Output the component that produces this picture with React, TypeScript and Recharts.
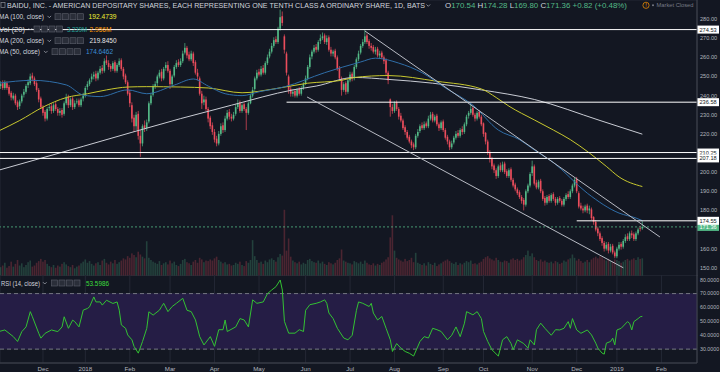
import React from 'react';
import {
  ComposedChart, Bar, Line, XAxis, YAxis, CartesianGrid, ReferenceLine, ReferenceArea,
} from 'recharts';

// trading-day index of each month start, Nov 2017 .. Feb 2019
const monthIdx = [21, 41, 62, 81, 102, 123, 145, 166, 187, 210, 229, 252, 273, 292, 313];
const monthLabels = ['Dec', '2018', 'Feb', 'Mar', 'Apr', 'May', 'Jun', 'Jul', 'Aug', 'Sep', 'Oct', 'Nov', 'Dec', '2019', 'Feb'];
const gridTicks = [150, 160, 170, 180, 190, 200, 210, 220, 230, 240, 250, 260, 270, 280];
// 170 and 210 sit under the level tags, so they get no label
const priceTicks = [150, 160, 180, 190, 200, 220, 230, 240, 250, 260, 270, 280];
const rsiTicks = [30, 40, 50, 60, 70];

const opens = [
  244, 245, 246.5, 244, 246.5, 244.5, 241.5, 238.5, 240, 236.5,
  234.5, 237, 240.5, 242, 245.5, 246.5, 250.5, 249, 246.5, 243,
  238.5, 234, 231.5, 228, 233.5, 234.5, 232, 235.5, 233, 231,
  232.5, 230.5, 236, 239.5, 235, 238.5, 234, 236.5, 237.5, 235,
  238.5, 240, 244.5, 246, 248.5, 250, 251.5, 249, 252, 254.5,
  253, 258.5, 257, 255.5, 254, 257.5, 253, 256, 258.5, 254,
  250.5, 247, 241.5, 235, 228.5, 224, 230.5, 219, 215, 224.5,
  223, 226.5, 236, 240.5, 245, 246.5, 250, 252.5, 249, 254.5,
  256, 253, 246, 250.5, 255, 257.5, 256, 258, 262.5, 265,
  261.5, 259, 262, 257.5, 252, 249, 241, 236.5, 238, 233,
  228.5, 224.5, 221, 217.5, 215, 220, 224.5, 222, 228, 231.5,
  229, 228, 230.5, 234, 236.5, 232, 235.5, 233, 231, 236,
  240, 243.5, 249, 252.5, 251, 254.5, 252, 257, 260.5, 263,
  266, 269.5, 268, 275, 281.5, 271, 262, 250, 243.5, 241,
  242.5, 240, 243.5, 241, 244, 246.5, 249, 255, 260.5, 263,
  265.5, 264, 268.5, 270, 271.5, 268, 270.5, 264, 262, 263.5,
  260, 254.5, 249, 243, 246.5, 242, 248, 251.5, 249, 255,
  259, 262.5, 266, 268, 271.5, 268.5, 266, 265.5, 263, 264.5,
  261, 262.5, 260, 258.5, 252, 238, 234, 232, 236.5, 233,
  229.5, 227, 223.5, 221, 218.5, 216, 214.5, 213, 219, 221.5,
  224.5, 223, 225.5, 224, 228, 230.5, 227, 229.5, 225, 223,
  226.5, 222, 218.5, 216, 213, 215.5, 218, 220.5, 219, 222.5,
  221, 225, 229.5, 231, 233.5, 230, 228, 231.5, 229, 225.5,
  220.5, 216, 210.5, 207, 203.5, 201, 198, 203.5, 201, 204.5,
  200.5, 198, 201.5, 196, 193.5, 191, 189.5, 187, 185.5, 183,
  190, 193, 199.5, 203, 194.5, 192, 195.5, 190, 186.5, 184,
  187.5, 185, 188.5, 186, 184, 186.5, 185, 183, 186, 188.5,
  187, 190, 193, 196.5, 189, 182.5, 181, 180, 182.5, 180,
  180.5, 176.5, 174, 170.5, 168, 165.5, 163, 160, 162.5, 159,
  161.5, 158, 156, 160, 162.5, 161, 164, 166.5, 165, 168,
  167.5, 165, 168, 170.8, 170.54,
];

const highs = [
  246.5, 247.5, 248, 248, 247.5, 245.5, 242.5, 241.5, 241, 237.5,
  238, 241, 243.5, 246, 248.5, 251.5, 252, 250, 247.5, 244,
  239.5, 235, 232.5, 234, 235.5, 236, 236, 237, 234, 233.5,
  233.5, 237, 241, 240.5, 239, 239.5, 237.5, 238.5, 238.5, 239,
  241.5, 245, 247.5, 249, 251.5, 252.5, 253, 253, 255.5, 256,
  259.5, 261, 258.5, 256.5, 258, 258.5, 257, 259.5, 259.5, 255,
  251.5, 248, 243, 236.5, 230, 231.5, 232, 222, 225, 227,
  227.5, 237, 241.5, 246, 247.5, 251, 253.5, 254, 255, 257.5,
  258, 254, 251, 256, 258.5, 259, 259.5, 263.5, 267.5, 266,
  263, 263.5, 263, 258.5, 254, 250, 242.5, 240, 239.5, 234,
  229.5, 226, 222.5, 219, 221.5, 225.5, 226, 229.5, 232.5, 233,
  230.5, 231.5, 235.5, 238, 237.5, 236, 236.5, 234, 237, 241,
  244.5, 250, 253.5, 254, 255.5, 256, 258, 261.5, 264.5, 267.5,
  270.5, 271, 276, 285, 284, 272, 263, 251, 245, 243.5,
  243.5, 244, 244.5, 245, 247, 250.5, 256, 261.5, 264, 266.5,
  267, 269, 272, 273, 272.5, 271.5, 271.5, 265.5, 264, 264.5,
  261, 255.5, 250, 247, 247.5, 249, 252.5, 252.5, 256, 260,
  263.5, 267, 269.5, 274.5, 272.5, 269.5, 267.5, 266.5, 265.5, 265.5,
  263.5, 263.5, 261, 259.5, 253, 238.5, 235.5, 237, 237.5, 234,
  231, 228, 224.5, 222, 219.5, 217, 215.5, 220, 222.5, 225,
  226, 226.5, 226.5, 229.5, 231.5, 231.5, 230, 230.5, 226, 227,
  227.5, 223, 219.5, 217, 216.5, 219, 221.5, 222, 223, 224,
  226, 230, 232, 235.5, 234.5, 231, 232, 232.5, 230, 226,
  221, 217, 211.5, 208, 204.5, 202, 204, 205, 205.5, 205.5,
  201.5, 202, 202.5, 197, 194.5, 192, 190.5, 188, 186.5, 191,
  194, 200, 206, 204, 196, 196, 196.5, 191, 187.5, 188,
  188.5, 189, 189.5, 187, 187, 187.5, 186, 187, 189, 190,
  191, 194, 197, 197.5, 190, 184, 182.5, 183, 183.5, 182.5,
  181.5, 177, 175, 171.5, 169, 166.5, 164, 163.5, 163.5, 162.5,
  162.5, 159, 161, 163.5, 163.5, 165, 167.5, 168, 169, 169.5,
  168.5, 169, 171, 172, 174.28,
];

const lows = [
  242.5, 243.5, 243, 243, 243, 240, 237.5, 237.5, 235, 232.5,
  233, 236, 239, 241, 244, 245.5, 247.5, 245, 242, 236.5,
  233, 229.5, 226.5, 227, 232, 230.5, 231, 232, 229.5, 229.5,
  228.5, 229.5, 235, 233.5, 234, 232.5, 233, 235.5, 234, 234,
  237, 239, 243, 245, 247, 248.5, 247.5, 248, 251, 251.5,
  252, 256, 253.5, 252.5, 253, 252, 252, 255, 253, 248.5,
  246, 240, 234, 226, 221, 222, 217, 208, 213.5, 221,
  221.5, 225.5, 235, 239.5, 243.5, 245, 249, 247.5, 248, 253,
  252, 243.5, 244.5, 249.5, 254, 255, 255, 257, 261.5, 259.5,
  258, 258, 255.5, 251, 248, 240, 233, 235, 232, 226,
  222.5, 219.5, 215.5, 213.5, 214, 219, 220.5, 221, 227, 227.5,
  226.5, 227, 229.5, 233, 231, 231, 232, 222, 230, 235.5,
  239, 242.5, 248, 250, 250, 251, 251, 256, 259.5, 262,
  265, 267, 267, 274, 276.5, 262, 250.5, 241, 239.5, 239.5,
  239, 239, 240, 240, 243, 245.5, 248, 254, 259, 262,
  262.5, 263, 267, 269, 267, 266.5, 263, 260.5, 260.5, 259,
  253, 248, 240, 242, 240.5, 241, 247, 247.5, 248, 254,
  258, 261.5, 265, 267, 267, 264.5, 263.5, 262, 261.5, 260,
  259.5, 259, 256.5, 250.5, 246, 229, 230.5, 231, 232, 227.5,
  226, 222, 219.5, 217, 215, 212.5, 211.5, 212, 218, 220.5,
  222, 222, 223, 223, 227, 226, 226, 224, 221.5, 222,
  221, 217, 214.5, 211.5, 212, 214.5, 217, 218, 218, 219.5,
  220, 224, 228, 230, 229, 226.5, 227, 228, 224, 218.5,
  214.5, 209, 205, 201.5, 199.5, 196.5, 197, 200, 200, 199,
  197, 197, 195, 192, 190, 188, 186, 183.5, 180, 182,
  189, 192, 198, 193, 191, 191, 189, 185, 182.5, 183,
  184, 184, 185, 182.5, 183, 184, 182, 182, 185, 186,
  186, 189, 192, 189, 181, 180, 178.5, 179, 178.5, 178,
  175, 172.5, 169, 166.5, 164, 161.5, 158.5, 159, 157.5, 158,
  157, 155, 155, 159, 159.5, 160, 163, 164, 164, 165.5,
  164, 164, 167, 169, 169.8,
];

const closes = [
  245, 246, 244, 247, 244, 241, 239, 240, 236, 234,
  237, 240, 242, 245, 247, 250, 249, 246, 243, 238,
  234, 231, 228, 233, 234, 232, 235, 233, 231, 232,
  230, 236, 239, 235, 238, 234, 236, 237, 235, 238,
  240, 244, 246, 248, 250, 251, 249, 252, 254, 253,
  258, 257, 255, 254, 257, 253, 256, 258, 254, 250,
  247, 241, 236, 228, 224, 230, 219, 215, 224, 223,
  226, 236, 240, 245, 246, 250, 252, 249, 254, 256,
  253, 246, 250, 255, 257, 256, 258, 262, 265, 261,
  259, 262, 257, 252, 250, 241, 236, 238, 233, 228,
  224, 221, 217, 215, 220, 224, 222, 228, 231, 229,
  228, 230, 234, 236, 232, 235, 233, 231, 236, 240,
  243, 249, 252, 251, 254, 252, 257, 260, 263, 266,
  269, 268, 275, 281, 278, 264, 252, 243, 241, 242,
  240, 243, 241, 244, 246, 249, 255, 260, 263, 265,
  264, 268, 270, 271, 268, 270, 264, 262, 263, 260,
  254, 249, 243, 246, 242, 248, 251, 249, 255, 259,
  262, 266, 268, 271, 268, 266, 265, 263, 264, 261,
  262, 260, 258, 252, 248, 234, 232, 236, 233, 229,
  227, 223, 221, 218, 216, 214, 213, 219, 221, 224,
  223, 225, 224, 228, 230, 227, 229, 225, 223, 226,
  222, 218, 216, 213, 215, 218, 220, 219, 222, 221,
  225, 229, 231, 233, 230, 228, 231, 229, 225, 220,
  216, 210, 207, 203, 201, 198, 203, 201, 204, 200,
  198, 201, 196, 193, 191, 189, 187, 185, 183, 190,
  193, 199, 203, 194, 192, 195, 190, 186, 184, 187,
  185, 188, 186, 184, 186, 185, 183, 186, 188, 187,
  190, 193, 196, 190, 182, 181, 180, 182, 180, 181,
  176, 174, 170, 168, 165, 163, 160, 162, 159, 161,
  158, 156, 160, 162, 161, 164, 166, 165, 168, 167,
  165, 168, 170, 170.5, 171.36,
];

// volume, millions
const volumes = [
  2.1, 1.6, 1.9, 2.4, 1.5, 1.8, 2.6, 1.7, 2.2, 2.9,
  1.9, 2.3, 1.6, 2.0, 2.5, 2.8, 1.7, 1.9, 2.4, 2.7,
  3.1, 2.6, 2.9, 2.2, 1.8, 1.6, 2.0, 1.5, 1.9, 1.7,
  2.2, 2.5, 2.1, 1.8, 1.6, 2.0, 1.4, 1.7, 1.9, 2.3,
  2.6, 3.0, 2.4, 2.7, 2.2, 1.9, 2.3, 2.5, 2.0, 2.8,
  3.1, 2.4, 2.1, 2.6, 2.3, 2.9, 2.2, 2.5, 2.8, 3.2,
  3.0, 3.6, 3.3, 4.1, 3.8, 3.4, 4.4, 3.9, 3.5, 3.2,
  6.3, 3.3, 2.9, 2.6, 2.4, 2.2, 2.7, 2.0, 2.3, 2.5,
  2.1, 2.8, 2.3, 2.6, 2.0, 1.8, 2.2, 2.9, 3.1, 2.5,
  2.3, 2.0, 2.6, 2.9, 2.4, 3.3, 3.0, 2.5, 2.8, 2.7,
  3.0, 2.8, 3.2, 3.5, 2.9, 2.6, 2.3, 2.5, 2.1, 2.2,
  1.9, 2.0, 2.4, 2.2, 2.6, 2.0, 1.8, 2.7, 2.4, 2.9,
  6.5, 3.6, 2.9, 2.4, 2.6, 2.2, 2.8, 2.5, 3.0, 3.2,
  2.9, 2.6, 3.4, 4.0, 3.7, 12.0, 4.6, 6.8, 3.5, 2.8,
  2.5, 2.3, 2.6, 2.1, 2.4, 2.2, 2.9, 3.1, 2.7, 2.5,
  2.4, 2.8, 2.3, 2.6, 2.2, 2.0, 2.5, 2.3, 2.1, 2.4,
  2.9, 3.2, 4.8, 2.8, 2.6, 2.4, 2.3, 2.1, 2.7, 2.5,
  2.3, 2.6, 2.2, 2.8, 2.4, 2.1, 2.0, 2.3, 1.9, 2.2,
  2.0, 2.4, 2.6, 3.0, 3.4, 7.0, 11.0, 4.6, 3.3, 3.0,
  2.8, 2.6, 3.1, 2.7, 2.9, 3.3, 2.5, 4.2, 2.4, 2.2,
  2.0, 2.3, 1.9, 2.5, 2.2, 2.0, 2.4, 1.8, 2.1, 2.3,
  2.6, 2.8, 3.0, 2.7, 2.4, 2.2, 2.5, 2.0, 2.3, 2.1,
  2.4, 2.7, 2.5, 2.8, 2.2, 2.3, 2.1, 2.4, 2.6, 3.1,
  3.4, 3.6, 3.2, 3.0, 2.8, 3.3, 2.9, 2.6, 2.5, 2.8,
  2.7, 2.4, 3.0, 3.2, 2.9, 3.1, 2.8, 3.0, 3.4, 3.8,
  4.6, 3.6, 4.1, 3.4, 2.9, 2.7, 3.0, 2.6, 2.8, 2.5,
  2.4, 2.6, 2.3, 2.7, 2.5, 2.2, 2.4, 2.8, 2.6, 3.0,
  3.2, 3.9, 3.3, 2.8, 3.1, 2.7, 2.4, 2.6, 2.9, 2.5,
  3.0, 3.3, 3.5, 3.2, 3.6, 3.4, 3.0, 2.8, 3.1, 2.7,
  2.6, 3.0, 2.9, 2.7, 2.4, 2.6, 2.9, 3.1, 2.8, 3.0,
  3.2, 2.9, 3.4, 3.1, 3.2,
];

// moving averages: [day index, value]
const ma50Pts = [
  [0, 246.5], [16, 248], [32, 245.6], [40, 240.3], [48, 239.5], [61, 243], [70, 241], [83, 245.5],
  [92, 248.7], [99, 245], [107, 241], [115, 240], [123, 242], [135, 244.6], [154, 252], [171, 257.6],
  [178, 259.6], [189, 257], [200, 252], [211, 244], [224, 235], [236, 222], [246, 217], [253, 211.6],
  [262, 205], [278, 189], [293, 178.6], [301, 176], [304, 174.65],
];
const ma100Pts = [
  [0, 221.5], [10, 227], [21, 234], [32, 239], [42, 241], [51, 243], [61, 244.5], [70, 244.7],
  [86, 244.5], [99, 244], [115, 241.5], [130, 243.5], [146, 246.5], [162, 248], [168, 249.5],
  [184, 250.5], [207, 247.5], [228, 243.5], [235, 239], [241, 234.5], [253, 227.3], [262, 222],
  [270, 217], [279, 210], [287, 203], [293, 197.5], [304, 192.47],
];
const ma200Pts = [
  [0, 201], [40, 213.5], [86, 228], [110, 235], [139, 243], [150, 245], [168, 249.5], [184, 248.5],
  [205, 246.5], [228, 243], [253, 238], [284, 227], [304, 219.85],
];

const rsiPts = [
  [0, 42.6], [3, 43.8], [7, 39], [9, 35.5], [11, 42.6], [13, 46], [15, 57], [16, 53.3], [19, 41.4],
  [20, 37.9], [22, 41.4], [25, 43.8], [28, 42.6], [30, 46], [31, 53.3], [33, 45], [35, 50.9],
  [36, 49.8], [38, 46], [40, 58.1], [42, 59.3], [43, 60.5], [45, 67.6], [46, 64], [48, 64],
  [49, 61.7], [51, 65.2], [54, 62.9], [56, 64], [57, 58.1], [58, 47.4], [60, 45], [61, 40.2],
  [63, 36.7], [64, 31.9], [66, 27.1], [68, 35.5], [70, 45], [71, 56.9], [73, 54.5], [76, 58.1],
  [77, 60.7], [78, 63], [80, 57], [82, 60.7], [84, 63], [87, 66.6], [89, 58], [91, 57], [93, 51],
  [95, 39], [97, 33], [100, 39], [102, 32], [104, 44], [106, 44], [107, 51], [108, 42.7], [112, 46],
  [114, 52], [116, 51], [118, 46], [120, 65.5], [122, 63], [125, 64], [127, 70], [129, 72.6],
  [131, 75], [133, 79.8], [134, 72.6], [135, 50], [137, 41.5], [140, 41.5], [142, 44], [144, 42.7],
  [145, 58], [147, 62], [150, 63], [152, 64], [154, 65.5], [155, 63], [156, 56], [158, 52], [160, 45],
  [163, 38], [165, 36.7], [167, 40], [169, 58], [170, 64], [172, 63], [175, 60.7], [176, 63],
  [177, 56], [179, 51], [181, 53.5], [183, 45], [185, 36.7], [186, 28.3], [188, 34], [190, 30.7],
  [192, 28.3], [194, 27], [196, 25], [199, 35.5], [201, 39], [203, 38], [205, 45], [207, 44],
  [209, 42.7], [212, 36.7], [214, 40], [216, 46], [218, 39], [220, 48.7], [221, 57], [224, 54.7],
  [226, 57], [228, 52], [229, 42.7], [231, 35.5], [233, 29.5], [236, 25], [237, 30.7], [238, 36.7],
  [240, 39], [242, 34], [243, 29.5], [245, 36.7], [248, 34], [250, 30.7], [251, 36.7], [253, 33],
  [254, 44], [256, 48.7], [258, 45], [261, 40], [263, 44], [265, 43.8], [267, 45], [269, 49.8],
  [270, 45], [271, 52], [273, 43.8], [275, 41.4], [278, 43.8], [280, 40.2], [282, 34.3], [283, 30.7],
  [285, 27.1], [286, 26.4], [287, 34.3], [289, 35.5], [290, 37.9], [291, 33.1], [292, 43.8],
  [294, 45], [297, 49.8], [298, 48.5], [299, 43.8], [300, 49.8], [302, 52], [303, 53.3], [304, 53.6],
];

const BG = '#131722';
const GRID = '#242835';
const AXIS = '#434651';
const TXT = '#b2b5be';
const UP = '#53b987';
const DOWN = '#eb4d5c';
const X0 = 0.7;
const X1 = 329.8;

const rows = closes.map((c, i) => ({
  i, range: [lows[i], highs[i]], open: opens[i], close: c, vol: volumes[i],
}));
const toPts = (a: number[][]) => a.map(([i, v]) => ({ i, v }));

const Candle = (props: any) => {
  const { x, y, width, height, payload } = props;
  if (!payload || height == null) return null;
  const [lo, hi] = payload.range;
  const k = height / (hi - lo || 1);
  const cx = x + width / 2;
  const yo = y + (hi - payload.open) * k;
  const yc = y + (hi - payload.close) * k;
  const col = payload.close >= payload.open ? UP : DOWN;
  return (
    <g>
      <line x1={cx} x2={cx} y1={y} y2={y + height} stroke={col} strokeWidth={0.7} />
      <rect x={cx - 0.8} y={Math.min(yo, yc)} width={1.6} height={Math.max(Math.abs(yc - yo), 0.7)} fill={col} />
    </g>
  );
};

const VolBar = (props: any) => {
  const { x, y, width, height, payload } = props;
  if (!payload || !height) return null;
  const up = payload.close >= payload.open;
  return <rect x={x + width / 2 - 0.8} y={y} width={1.6} height={height} fill={up ? 'rgba(83,185,135,0.26)' : 'rgba(235,77,92,0.26)'} />;
};

const Tag = (props: any) => {
  const vb = props.viewBox || {};
  const x = (vb.x || 0) + (vb.width || 0);
  const y = vb.y || 0;
  return (
    <g>
      <rect x={x} y={y - 4} width={22} height={8} fill={props.bg} />
      <text x={x + 2.5} y={y + 2} fontSize={5.6} fill={props.fg}>{props.txt}</text>
    </g>
  );
};

const Icons = ({ x, cy }: { x: number; cy: number }) => (
  <g>
    {[0, 1, 2, 3].map((k) => (
      <rect key={k} x={x + k * 7.5} y={cy - 3} width={6} height={6} fill="#2a2e39" stroke="#5d606b" strokeWidth={0.6} />
    ))}
  </g>
);
const Chev = ({ x, cy }: { x: number; cy: number }) => (
  <path d={`M${x} ${cy - 0.8} l1.8 1.8 l1.8 -1.8`} stroke={TXT} strokeWidth={0.7} fill="none" />
);

const xAxisCommon = {
  dataKey: 'i', type: 'number' as const, domain: [X0, X1], allowDataOverflow: true, ticks: monthIdx,
};

export default function App() {
  const lv = '#ffffff';
  return (
    <div style={{ position: 'absolute', left: 0, top: 0, width: 720, height: 372, background: BG, overflow: 'hidden', fontFamily: '"Liberation Sans", Arial, sans-serif' }}>
      {/* volume + grid layer */}
      <div style={{ position: 'absolute', left: 0, top: 0 }}>
        <ComposedChart width={720} height={276} data={rows} margin={{ top: 0, right: 0, bottom: 0, left: 0 }}>
          <XAxis {...xAxisCommon} height={0} tick={false} axisLine={false} tickLine={false} />
          <YAxis orientation="right" width={23} domain={[145.7, 290]} allowDataOverflow ticks={gridTicks} interval={0} tick={false} axisLine={false} tickLine={false} />
          <YAxis yAxisId="v" hide domain={[0, 50]} />
          <CartesianGrid stroke={GRID} />
          <Bar yAxisId="v" dataKey="vol" barSize={2} shape={<VolBar />} isAnimationActive={false} />
        </ComposedChart>
      </div>

      {/* price layer */}
      <div style={{ position: 'absolute', left: 0, top: 0 }}>
        <ComposedChart width={720} height={276} data={rows} margin={{ top: 0, right: 0, bottom: 0, left: 0 }}>
          <XAxis {...xAxisCommon} height={0} tick={false} axisLine={{ stroke: AXIS }} tickLine={false} />
          <YAxis orientation="right" width={23} domain={[145.7, 290]} allowDataOverflow ticks={priceTicks} interval={0}
            tickFormatter={(v: number) => v.toFixed(2)} tick={{ fontSize: 5.6, fill: TXT }} tickLine={false}
            tickSize={0} tickMargin={3} axisLine={{ stroke: AXIS }} />
          <Line data={toPts(ma200Pts)} dataKey="v" type="monotone" stroke="#c9ccd4" strokeWidth={1} dot={false} activeDot={false} isAnimationActive={false} />
          <Line data={toPts(ma100Pts)} dataKey="v" type="monotone" stroke="#c8c82e" strokeWidth={1} dot={false} activeDot={false} isAnimationActive={false} />
          <Line data={toPts(ma50Pts)} dataKey="v" type="monotone" stroke="#2f6ea8" strokeWidth={1} dot={false} activeDot={false} isAnimationActive={false} />
          <Bar dataKey="range" barSize={2} shape={<Candle />} isAnimationActive={false} />
          <ReferenceLine y={171.36} stroke={UP} strokeDasharray="2 2" strokeWidth={0.8} label={<Tag txt="171.36" bg={UP} fg="#ffffff" />} />
          <ReferenceLine y={274.53} stroke={lv} strokeWidth={1} label={<Tag txt="274.53" bg="#ffffff" fg={BG} />} />
          <ReferenceLine y={210.25} stroke={lv} strokeWidth={1} label={<Tag txt="210.25" bg="#ffffff" fg={BG} />} />
          <ReferenceLine y={207.18} stroke={lv} strokeWidth={1} label={<Tag txt="207.18" bg="#ffffff" fg={BG} />} />
          <ReferenceLine segment={[{ x: 136, y: 236.58 }, { x: X1, y: 236.58 }]} stroke={lv} strokeWidth={1} label={<Tag txt="236.58" bg="#ffffff" fg={BG} />} />
          <ReferenceLine segment={[{ x: 273, y: 174.55 }, { x: X1, y: 174.55 }]} stroke={lv} strokeWidth={1} label={<Tag txt="174.55" bg="#ffffff" fg={BG} />} />
          <ReferenceLine segment={[{ x: 173, y: 273.8 }, { x: 312.3, y: 166.1 }]} stroke="#b8bbc4" strokeWidth={1} />
          <ReferenceLine segment={[{ x: 145.7, y: 239.3 }, { x: 295, y: 150 }]} stroke="#b8bbc4" strokeWidth={1} />
        </ComposedChart>
      </div>

      {/* RSI pane */}
      <div style={{ position: 'absolute', left: 0, top: 275 }}>
        <ComposedChart width={720} height={97} data={toPts(rsiPts)} margin={{ top: 0, right: 0, bottom: 0, left: 0 }}>
          <XAxis {...xAxisCommon} interval={0} height={9} tickFormatter={(v: number) => monthLabels[monthIdx.indexOf(v)] || ''}
            tick={{ fontSize: 6.2, fill: TXT }} tickLine={false} tickSize={0} tickMargin={3.5} axisLine={{ stroke: AXIS }} />
          <YAxis orientation="right" width={23} domain={[20, 83.4]} allowDataOverflow ticks={rsiTicks} interval={0}
            tickFormatter={(v: number) => v.toFixed(4)} tick={{ fontSize: 5.3, fill: TXT }} tickLine={false}
            tickSize={0} tickMargin={3} axisLine={{ stroke: AXIS }} />
          <ReferenceArea y1={30} y2={70} fill="#251d45" fillOpacity={1} stroke="none" />
          <CartesianGrid stroke={GRID} />
          <ReferenceLine y={70} stroke="#8a8d96" strokeDasharray="4 3" strokeWidth={0.8} />
          <ReferenceLine y={30} stroke="#8a8d96" strokeDasharray="4 3" strokeWidth={0.8} />
          <Line dataKey="v" type="linear" stroke="#33c233" strokeWidth={1} dot={false} activeDot={false} isAnimationActive={false} />
        </ComposedChart>
      </div>

      {/* legend texts */}
      <svg width={720} height={372} style={{ position: 'absolute', left: 0, top: 0, pointerEvents: 'none' }}>
        <g fill="#d1d4dc" fontSize={6.8}>
          <rect x={1} y={2.5} width={4} height={5} fill="none" stroke="#8a8d96" strokeWidth={0.7} />
          <text x={7} y={7.8} textLength={418} lengthAdjust="spacingAndGlyphs">BAIDU, INC. - AMERICAN DEPOSITARY SHARES, EACH REPRESENTING ONE TENTH CLASS A ORDINARY SHARE, 1D, BATS</text>
          <Chev x={426.5} cy={5.3} />
          <text x={445} y={7.8} textLength={182} lengthAdjust="spacingAndGlyphs">
            O<tspan fill={UP}>170.54</tspan> H<tspan fill={UP}>174.28</tspan> L<tspan fill={UP}>169.80</tspan> C<tspan fill={UP}>171.36</tspan> <tspan fill={UP}>+0.82 (+0.48%)</tspan>
          </text>
          <circle cx={646} cy={5.3} r={3.1} fill="none" stroke="#ff9800" strokeWidth={0.7} />
          <text x={646} y={7.3} fontSize={5.5} fill="#ff9800" textAnchor="middle">!</text>
          <circle cx={653} cy={5.3} r={1} fill="#787b86" />
          <text x={656.5} y={7.3} fontSize={5.5} fill="#787b86" textLength={37} lengthAdjust="spacingAndGlyphs">Market Closed</text>

          <text x={-1} y={19.2} textLength={45} lengthAdjust="spacingAndGlyphs">MA (100, close)</text>
          <Chev x={47.5} cy={16.7} />
          <Icons x={55} cy={16.7} />
          <text x={88.5} y={19.2} fill="#f0f032" textLength={28} lengthAdjust="spacingAndGlyphs">192.4739</text>

          <text x={-1} y={31.5} textLength={26} lengthAdjust="spacingAndGlyphs">Vol (20)</text>
          <Chev x={28.5} cy={29} />
          <Icons x={34} cy={29} />
          <text x={67} y={31.5} fill="#26a69a" textLength={20} lengthAdjust="spacingAndGlyphs">3.239M</text>
          <text x={89.5} y={31.5} fill="#ff9800" textLength={22} lengthAdjust="spacingAndGlyphs">2.956M</text>

          <text x={-1} y={43.2} textLength={45} lengthAdjust="spacingAndGlyphs">MA (200, close)</text>
          <Chev x={47.5} cy={40.7} />
          <Icons x={55} cy={40.7} />
          <text x={89.5} y={43.2} fill="#e6e6e6" textLength={27} lengthAdjust="spacingAndGlyphs">219.8450</text>

          <text x={-1} y={54.2} textLength={41} lengthAdjust="spacingAndGlyphs">MA (50, close)</text>
          <Chev x={44} cy={51.7} />
          <Icons x={52} cy={51.7} />
          <text x={86} y={54.2} fill="#3d8fd6" textLength={27} lengthAdjust="spacingAndGlyphs">174.6462</text>

          <text x={1} y={285.5} textLength={39} lengthAdjust="spacingAndGlyphs">RSI (14, close)</text>
          <Chev x={43} cy={283} />
          <Icons x={51.5} cy={283} />
          <text x={86} y={285.5} fill="#3ddc3d" textLength={23} lengthAdjust="spacingAndGlyphs">53.5986</text>

          {/* top RSI scale label, level 80 of the [20, 83.4] pane */}
          <text x={700} y={281.6} fontSize={5.3} fill={TXT}>80.0000</text>
        </g>
      </svg>
    </div>
  );
}
